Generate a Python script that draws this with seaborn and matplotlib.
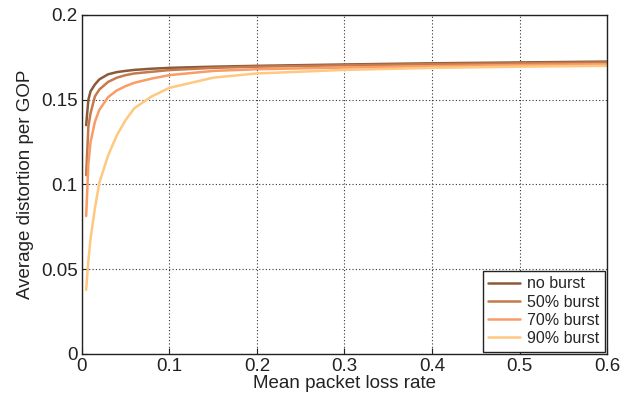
import numpy as np
import pandas as pd
import seaborn as sns
import matplotlib
matplotlib.use("Agg")
import matplotlib.pyplot as plt

loss_rate = [0.005, 0.0075, 0.01, 0.015, 0.02, 0.03, 0.04, 0.05, 0.06, 0.08,
             0.1, 0.15, 0.2, 0.3, 0.4, 0.5, 0.6]
no_burst = [0.135, 0.150, 0.155, 0.159, 0.162, 0.1650, 0.1663, 0.1670, 0.1676, 0.1683,
            0.1688, 0.1695, 0.1700, 0.1708, 0.1715, 0.1720, 0.1725]
burst_50 = [0.1055, 0.134, 0.142, 0.152, 0.156, 0.1605, 0.1630, 0.1645, 0.1655, 0.1665,
            0.1675, 0.1688, 0.1695, 0.1703, 0.1710, 0.1715, 0.1720]
burst_70 = [0.0814, 0.112, 0.125, 0.137, 0.144, 0.1515, 0.1555, 0.1580, 0.1600, 0.1625,
            0.1645, 0.1670, 0.1680, 0.1690, 0.1698, 0.1705, 0.1710]
burst_90 = [0.0378, 0.055, 0.068, 0.086, 0.101, 0.117, 0.129, 0.138, 0.145, 0.152,
            0.1570, 0.1630, 0.1655, 0.1676, 0.1688, 0.1695, 0.1700]
series_names = ["no burst", "50% burst", "70% burst", "90% burst"]
colors = ["#8a5a3a", "#c47a4c", "#f99c66", "#ffc880"]

rows = []
for name, vals in zip(series_names, [no_burst, burst_50, burst_70, burst_90]):
    for x, y in zip(loss_rate, vals):
        rows.append({"x": x, "y": y, "series": name})
df = pd.DataFrame(rows)

sns.set_style("white")
plt.rcParams['font.family'] = ['Liberation Sans', 'DejaVu Sans']

fig = plt.figure(figsize=(6.39, 4.05), dpi=100)
ax = fig.add_axes([0.128, 0.126, 0.822, 0.837])
sns.lineplot(data=df, x="x", y="y", hue="series", hue_order=series_names,
             palette=colors, linewidth=1.8, ax=ax)

ax.set_xlim(0, 0.6)
ax.set_ylim(0, 0.2)
ax.set_xticks([0, 0.1, 0.2, 0.3, 0.4, 0.5, 0.6])
ax.set_xticklabels(["0", "0.1", "0.2", "0.3", "0.4", "0.5", "0.6"])
ax.set_yticks([0, 0.05, 0.1, 0.15, 0.2])
ax.set_yticklabels(["0", "0.05", "0.1", "0.15", "0.2"])
ax.tick_params(axis="both", direction="in", length=4, labelsize=13.5, colors="#222222",
               pad=3, left=True, bottom=True)
ax.grid(True, linestyle=(0, (1, 2)), color="#333333", linewidth=0.8)
for s in ax.spines.values():
    s.set_color("#222222")
    s.set_linewidth(1.0)
ax.set_xlabel("Mean packet loss rate", fontsize=13.5, color="#222222", labelpad=0)
ax.set_ylabel("Average distortion per GOP", fontsize=13.5, color="#222222", labelpad=5)

leg = ax.legend(loc="lower right", fontsize=11.5, frameon=True, fancybox=False,
                edgecolor="#222222", framealpha=1, handlelength=2.0,
                borderpad=0.35, labelspacing=0.2, handletextpad=0.4,
                borderaxespad=0.15)
leg.get_frame().set_linewidth(1.0)

fig.savefig("out.png", dpi=100)
